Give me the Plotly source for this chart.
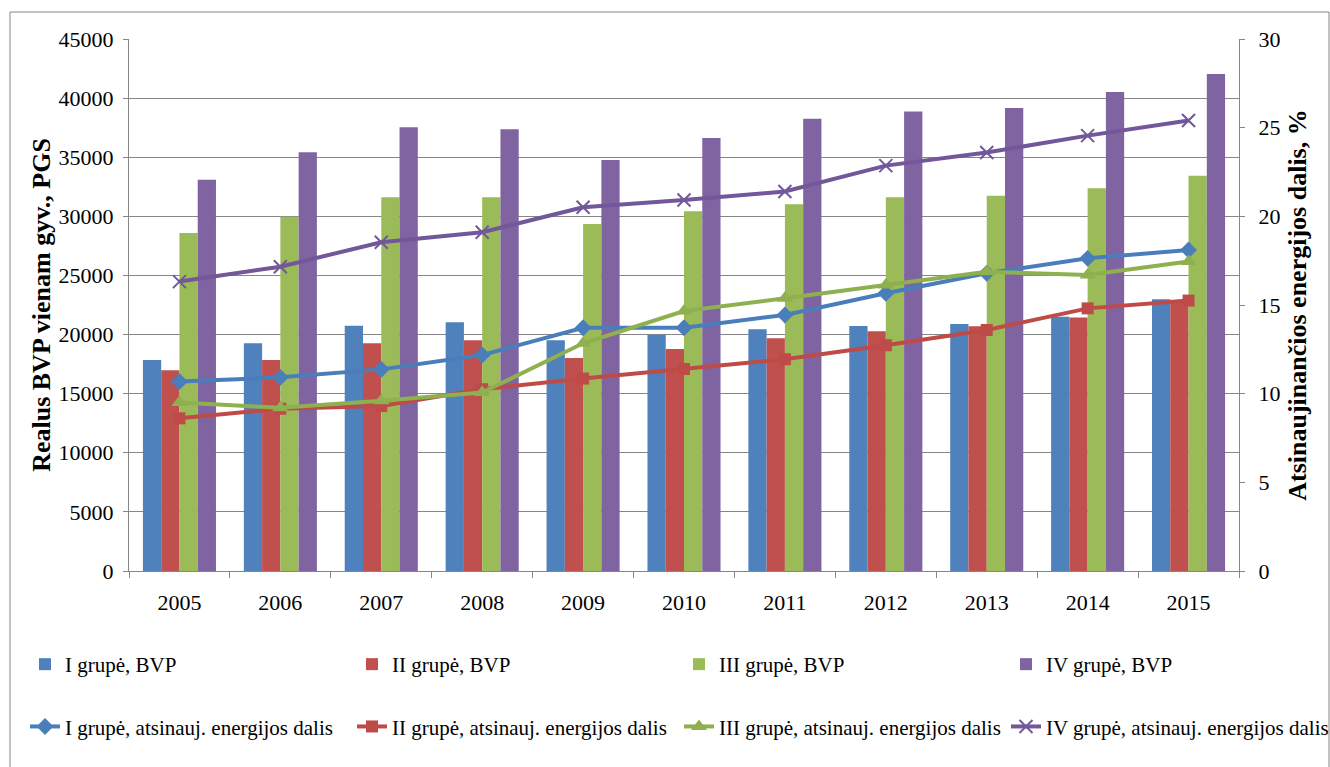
import plotly.graph_objects as go

years = ["2005", "2006", "2007", "2008", "2009", "2010", "2011", "2012", "2013", "2014", "2015"]

bvp_names = ["I grupė, BVP", "II grupė, BVP", "III grupė, BVP", "IV grupė, BVP"]
bvp_I = [17850, 19260, 20750, 21040, 19510, 19990, 20440, 20720, 20890, 21510, 22980]
bvp_II = [16980, 17850, 19260, 19510, 18020, 18780, 19680, 20270, 20700, 21450, 22900]
bvp_III = [28590, 29970, 31610, 31610, 29350, 30420, 31020, 31610, 31750, 32370, 33440]
bvp_IV = [33100, 35420, 37530, 37360, 34770, 36630, 38260, 38860, 39170, 40520, 42040]

ae_names = ["I grupė, atsinauj. energijos dalis", "II grupė, atsinauj. energijos dalis",
            "III grupė, atsinauj. energijos dalis", "IV grupė, atsinauj. energijos dalis"]
ae_I = [10.68, 10.92, 11.37, 12.18, 13.72, 13.72, 14.44, 15.66, 16.79, 17.63, 18.10]
ae_II = [8.61, 9.15, 9.30, 10.25, 10.85, 11.39, 11.94, 12.73, 13.59, 14.81, 15.25]
ae_III = [9.50, 9.20, 9.60, 10.06, 12.84, 14.66, 15.38, 16.13, 16.88, 16.69, 17.45]
ae_IV = [16.32, 17.16, 18.54, 19.10, 20.51, 20.92, 21.40, 22.86, 23.60, 24.55, 25.40]

bar_colors = ["#4F81BD", "#C0504D", "#9BBB59", "#8064A2"]
line_colors = ["#4A7EBB", "#BE4B48", "#8EB04E", "#72579A"]
symbols = ["diamond", "square", "triangle-up", "x-thin-open"]
msizes = [13, 12, 14, 13]

FONT = "Liberation Serif"
W, H = 1330, 767
L, R, T, B = 129, 91, 39, 196
pw, ph = W - L - R, H - T - B

def px2x(px):
    return (px - L) / pw

def py2y(py):
    return (H - B - py) / ph

fig = go.Figure()
legend_ids = ["legend", "legend2", "legend3", "legend4"]

for i, vals in enumerate([bvp_I, bvp_II, bvp_III, bvp_IV]):
    fig.add_trace(go.Bar(x=years, y=vals, name=bvp_names[i], marker_color=bar_colors[i],
                         marker_line_width=0, legend=legend_ids[i], legendgroup="b%d" % i))

for i, vals in enumerate([ae_I, ae_II, ae_III, ae_IV]):
    mk = dict(symbol=symbols[i], size=msizes[i], color=line_colors[i],
              line=dict(color=line_colors[i], width=2 if i == 3 else 0))
    fig.add_trace(go.Scatter(x=years, y=vals, name=ae_names[i], yaxis="y2",
                             mode="lines+markers", line=dict(color=line_colors[i], width=4),
                             marker=mk, legend=legend_ids[i], legendgroup="l%d" % i))

leg_lefts = [25, 352, 679, 1006]
layout_legends = {}
for i, lid in enumerate(legend_ids):
    layout_legends[lid] = dict(x=px2x(leg_lefts[i]), y=py2y(644), xanchor="left", yanchor="top",
                               orientation="v", bgcolor="rgba(0,0,0,0)", tracegroupgap=32,
                               font=dict(family=FONT, size=21, color="black"),
                               traceorder="grouped")

grid = "#868686"
fig.update_layout(
    width=W, height=H,
    margin=dict(l=L, r=R, t=T, b=B, autoexpand=False),
    paper_bgcolor="white", plot_bgcolor="white",
    barmode="group", bargap=0.276, bargroupgap=0,
    font=dict(family=FONT, size=22, color="black"),
    xaxis=dict(type="category", range=[-0.5, len(years) - 0.5], showline=True, linecolor=grid,
               linewidth=1, ticks="outside", ticklen=6, tickcolor=grid, tickson="boundaries",
               ticklabelstandoff=12, showgrid=False,
               tickfont=dict(family=FONT, size=22, color="black")),
    yaxis=dict(range=[0, 45000], dtick=5000, tickformat="d", showline=True, linecolor=grid,
               linewidth=1, ticks="outside", ticklen=5, tickcolor=grid, showgrid=True,
               gridcolor=grid, gridwidth=1, zeroline=False, automargin=False,
               ticklabelstandoff=5,
               tickfont=dict(family=FONT, size=22, color="black"),
               title=dict(text="Realus BVP vienam gyv., PGS", standoff=0,
                          font=dict(family=FONT, size=26, color="black", weight="bold"))),
    yaxis2=dict(range=[0, 30], dtick=5, overlaying="y", side="right", showline=True,
                linecolor=grid, linewidth=1, ticks="outside", ticklen=5, tickcolor=grid,
                showgrid=False, zeroline=False, automargin=False, ticklabelstandoff=9,
                tickfont=dict(family=FONT, size=22, color="black"),
                title=dict(text="Atsinaujinančios energijos dalis, %", standoff=8,
                           font=dict(family=FONT, size=26, color="black", weight="bold"))),
    shapes=[dict(type="rect", xref="paper", yref="paper",
                 x0=px2x(10), x1=px2x(1329), y0=py2y(790), y1=py2y(12),
                 line=dict(color=grid, width=1), fillcolor="rgba(0,0,0,0)", layer="below")],
    **layout_legends,
)

fig.write_html("out.html", config={"displayModeBar": False},
               post_script="document.body.style.margin='0px';document.body.style.overflow='hidden';")
